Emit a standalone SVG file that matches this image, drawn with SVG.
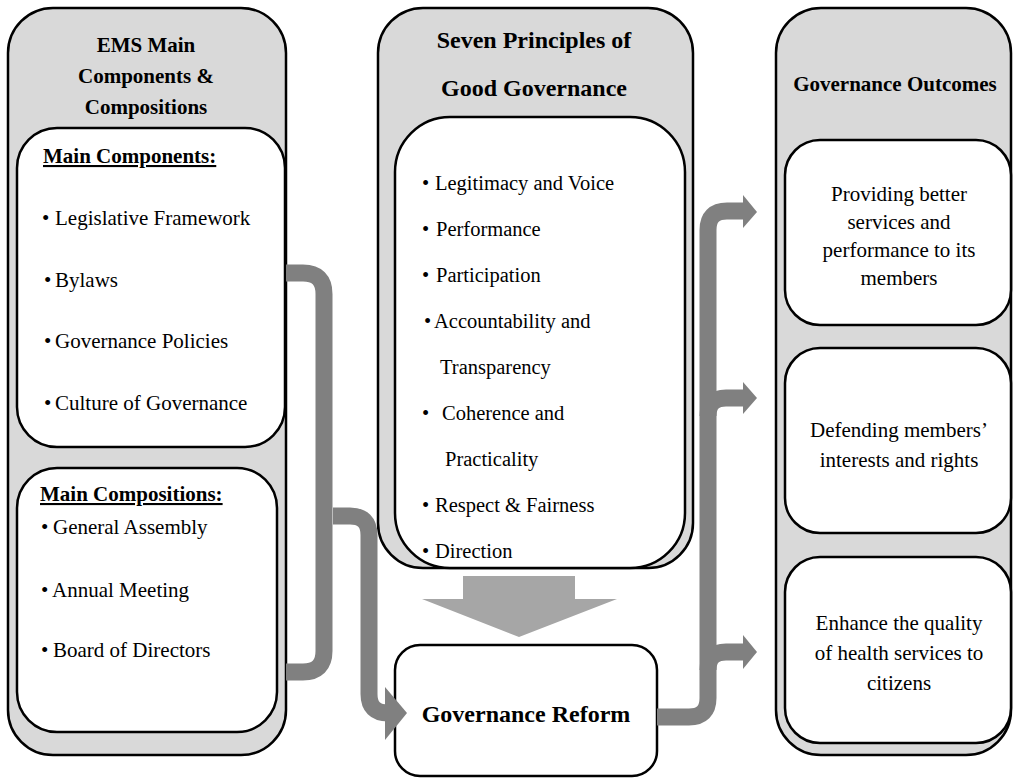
<svg xmlns="http://www.w3.org/2000/svg" width="1014" height="778" viewBox="0 0 1014 778">
<style>
.outer{fill:#d9d9d9;stroke:#000;stroke-width:2.5}
.inner{fill:#fff;stroke:#000;stroke-width:2.5}
.h{font-family:"Liberation Serif","Times New Roman",serif;font-weight:bold;font-size:21px;fill:#000}
.h24{font-family:"Liberation Serif","Times New Roman",serif;font-weight:bold;font-size:24px;fill:#000}
.t{font-family:"Liberation Serif","Times New Roman",serif;font-size:21px;fill:#000}
.tm{font-family:"Liberation Serif","Times New Roman",serif;font-size:20.5px;fill:#000}
.c{text-anchor:middle}
.u{text-decoration:underline}
.conn{fill:none;stroke:#808080;stroke-width:17}
.head{fill:#808080}
</style>
<rect width="1014" height="778" fill="#fff"/>

<g id="ems">
<rect class="outer" x="8" y="8" width="278" height="747" rx="45"/>
<text class="h c" x="146" y="52">EMS Main</text>
<text class="h c" x="146" y="83">Components &amp;</text>
<text class="h c" x="146" y="114">Compositions</text>
</g>

<g id="main-components">
<rect class="inner" x="17" y="128" width="268" height="319" rx="40"/>
<text class="h u" x="43" y="163">Main Components:</text>
<text class="t"><tspan x="42" y="225">•</tspan><tspan x="55" y="225">Legislative Framework</tspan></text>
<text class="t"><tspan x="44" y="287">•</tspan><tspan x="55" y="287">Bylaws</tspan></text>
<text class="t"><tspan x="44" y="348">•</tspan><tspan x="55" y="348">Governance Policies</tspan></text>
<text class="t"><tspan x="44" y="410">•</tspan><tspan x="55" y="410">Culture of Governance</tspan></text>
</g>

<g id="main-compositions">
<rect class="inner" x="17" y="468" width="260" height="264" rx="40"/>
<text class="h u" x="40" y="501">Main Compositions:</text>
<text class="t"><tspan x="41" y="534">•</tspan><tspan x="53" y="534">General Assembly</tspan></text>
<text class="t"><tspan x="41" y="597">•</tspan><tspan x="52" y="597">Annual Meeting</tspan></text>
<text class="t"><tspan x="41" y="657">•</tspan><tspan x="53" y="657">Board of Directors</tspan></text>
</g>

<g id="principles">
<rect class="outer" x="378" y="8" width="315" height="560" rx="45"/>
<rect class="inner" x="395" y="117" width="290" height="451" rx="55"/>
<text class="h24 c" x="534" y="48">Seven Principles of</text>
<text class="h24 c" x="534" y="96">Good Governance</text>
<text class="tm"><tspan x="422" y="190">•</tspan><tspan x="435" y="190">Legitimacy and Voice</tspan></text>
<text class="tm"><tspan x="422" y="236">•</tspan><tspan x="436" y="236">Performance</tspan></text>
<text class="tm"><tspan x="422" y="282">•</tspan><tspan x="436" y="282">Participation</tspan></text>
<text class="tm"><tspan x="424" y="328">•</tspan><tspan x="434" y="328">Accountability and</tspan></text>
<text class="tm" x="440" y="374">Transparency</text>
<text class="tm"><tspan x="422" y="420">•</tspan><tspan x="442" y="420">Coherence and</tspan></text>
<text class="tm" x="445" y="466">Practicality</text>
<text class="tm"><tspan x="422" y="512">•</tspan><tspan x="435" y="512">Respect &amp; Fairness</tspan></text>
<text class="tm"><tspan x="422" y="558">•</tspan><tspan x="435" y="558">Direction</tspan></text>
</g>

<g id="reform">
<rect class="inner" x="395" y="645" width="262" height="131" rx="25"/>
<text class="h24 c" x="526" y="722">Governance Reform</text>
</g>

<g id="outcomes">
<rect class="outer" x="776" y="8" width="235" height="747" rx="45"/>
<text class="h c" x="895" y="91">Governance Outcomes</text>
</g>
<g id="outcome-1">
<rect class="inner" x="785" y="140" width="226" height="185" rx="35"/>
<text class="t c" x="899" y="201">Providing better</text>
<text class="t c" x="899" y="229">services and</text>
<text class="t c" x="899" y="257">performance to its</text>
<text class="t c" x="899" y="285">members</text>
</g>
<g id="outcome-2">
<rect class="inner" x="785" y="348" width="226" height="185" rx="35"/>
<text class="t c" x="899" y="437">Defending members’</text>
<text class="t c" x="899" y="467">interests and rights</text>
</g>
<g id="outcome-3">
<rect class="inner" x="785" y="557" width="226" height="186" rx="35"/>
<text class="t c" x="899" y="630">Enhance the quality</text>
<text class="t c" x="899" y="660">of health services to</text>
<text class="t c" x="899" y="690">citizens</text>
</g>

<g id="connectors">
<path class="conn" d="M286 273 H303 Q324 273 324 294 V651 Q324 672 303 672 H286"/>
<path class="conn" d="M333 516 H350 Q369 516 369 535 V694 Q369 713 388 713 H390"/>
<polygon class="head" points="385,687 407,713 385,740"/>
<polygon fill="#a6a6a6" points="463,576 575,576 575,599 617,599 519,637 422,599 463,599"/>
<path class="conn" d="M657 717 H689 Q708 717 708 698 V230 Q708 211 727 211 H745"/>
<path class="conn" d="M708 416 Q708 398 726 398 H745"/>
<path class="conn" d="M708 670 Q708 652 726 652 H745"/>
<polygon class="head" points="743,195 757,212 743,228"/>
<polygon class="head" points="743,382 757,398 743,414"/>
<polygon class="head" points="743,635 757,652 743,669"/>
</g>
</svg>
